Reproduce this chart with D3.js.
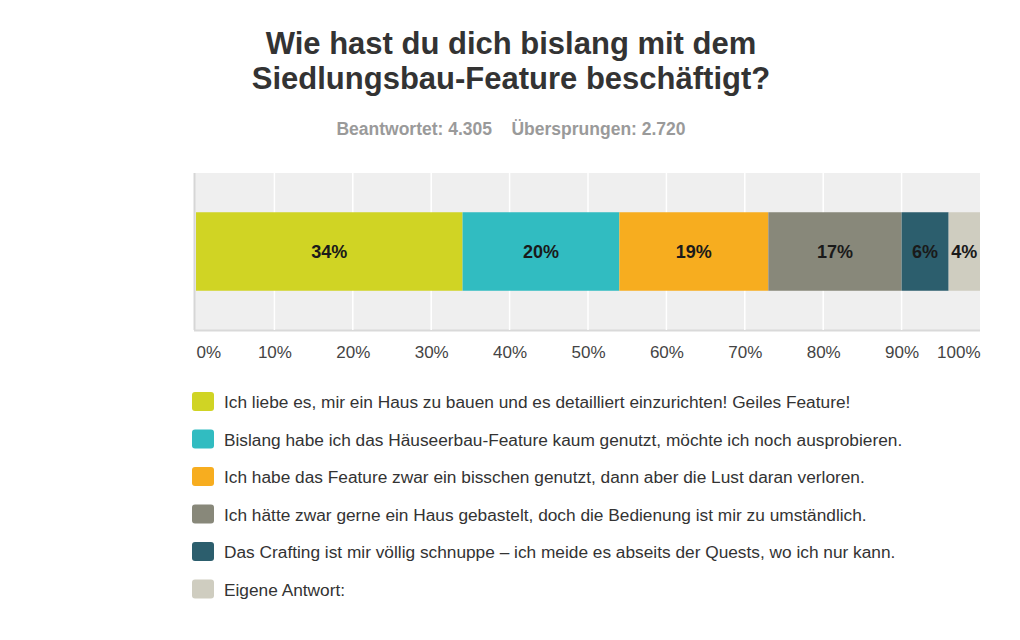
<!DOCTYPE html>
<html>
<head>
<meta charset="utf-8">
<script src="https://cdn.jsdelivr.net/npm/d3@7"></script>
<style>
  body { margin: 0; background: #fff; }
  svg text { font-family: "Liberation Sans", Arial, sans-serif; }
</style>
</head>
<body>
<div id="chart"></div>
<script>
// Data
var answers = [
  "Ich liebe es, mir ein Haus zu bauen und es detailliert einzurichten! Geiles Feature!",
  "Bislang habe ich das Häuseerbau-Feature kaum genutzt, möchte ich noch ausprobieren.",
  "Ich habe das Feature zwar ein bisschen genutzt, dann aber die Lust daran verloren.",
  "Ich hätte zwar gerne ein Haus gebastelt, doch die Bedienung ist mir zu umständlich.",
  "Das Crafting ist mir völlig schnuppe – ich meide es abseits der Quests, wo ich nur kann.",
  "Eigene Antwort:"
];
var shares = [34, 20, 19, 17, 6, 4];
var colors = ["#d0d424", "#31bcc1", "#f7ad1f", "#88887a", "#2c5e6d", "#cfcdc0"];
var tickValues = [0, 10, 20, 30, 40, 50, 60, 70, 80, 90, 100];
var titleLines = ["Wie hast du dich bislang mit dem", "Siedlungsbau-Feature beschäftigt?"];
var subtitle = "Beantwortet: 4.305\u00a0\u00a0\u00a0\u00a0Übersprungen: 2.720";

var svgWidth = 1020;
var svgHeight = 640;

var svg = d3.select("#chart")
  .append("svg")
  .attr("width", svgWidth)
  .attr("height", svgHeight);

// Title
svg.append("g").selectAll("text")
  .data(titleLines)
  .enter()
  .append("text")
  .attr("x", 511)
  .attr("y", (d, i) => 54 + i * 35)
  .attr("text-anchor", "middle")
  .attr("font-size", "31px")
  .attr("font-weight", "bold")
  .attr("fill", "#333")
  .text(d => d);

svg.append("text")
  .attr("x", 511)
  .attr("y", 135)
  .attr("text-anchor", "middle")
  .attr("font-size", "17.5px")
  .attr("font-weight", "bold")
  .attr("fill", "#9a9a9a")
  .text(subtitle);

// Scales
var plotTop = 173, plotBottom = 330;
var x = d3.scaleLinear().domain([0, 100]).range([196, 980]);
var y = d3.scaleBand().domain(["q"]).range([plotTop, plotBottom]).paddingInner(0).paddingOuter(0.5);

// Plot background
svg.append("rect")
  .attr("x", 194)
  .attr("y", plotTop)
  .attr("width", x(100) - 194)
  .attr("height", plotBottom - plotTop)
  .attr("fill", "#efefef");

svg.append("line")
  .attr("x1", 194.5).attr("x2", 194.5)
  .attr("y1", plotTop).attr("y2", plotBottom)
  .attr("stroke", "#d6d6d6")
  .attr("stroke-width", 2);

svg.append("line")
  .attr("x1", 194).attr("x2", x(100))
  .attr("y1", plotBottom + 0.5).attr("y2", plotBottom + 0.5)
  .attr("stroke", "#d9d9d9")
  .attr("stroke-width", 2);

// Gridlines
svg.append("g").selectAll("line")
  .data(tickValues.slice(1, -1))
  .enter()
  .append("line")
  .attr("x1", d => x(d)).attr("x2", d => x(d))
  .attr("y1", plotTop).attr("y2", plotBottom)
  .attr("stroke", "#fff")
  .attr("stroke-width", 1.5);

// Stacked bar
var stackData = [];
var acc = 0;
shares.forEach(function(v, i) {
  stackData.push({ start: acc, end: acc + v, value: v, color: colors[i] });
  acc += v;
});

svg.append("g").selectAll("rect")
  .data(stackData)
  .enter()
  .append("rect")
  .attr("x", d => x(d.start))
  .attr("y", y("q"))
  .attr("width", d => x(d.end) - x(d.start))
  .attr("height", y.bandwidth())
  .attr("fill", d => d.color);

svg.append("g").selectAll("text")
  .data(stackData)
  .enter()
  .append("text")
  .attr("x", d => (x(d.start) + x(d.end)) / 2)
  .attr("y", y("q") + y.bandwidth() / 2)
  .attr("dy", "0.35em")
  .attr("text-anchor", "middle")
  .attr("font-size", "18px")
  .attr("font-weight", "bold")
  .attr("fill", "#1a1a1a")
  .text(d => d.value + "%");

// X axis labels
var bottomAxis = d3.axisBottom(x)
  .tickValues(tickValues)
  .tickFormat(d => d + "%")
  .tickSize(0)
  .tickPadding(0);

var axisG = svg.append("g")
  .attr("transform", "translate(0, 346)")
  .call(bottomAxis);

axisG.select(".domain").remove();
axisG.selectAll("text")
  .attr("font-family", "Liberation Sans, Arial, sans-serif")
  .attr("font-size", "17px")
  .attr("fill", "#444")
  .attr("text-anchor", (d, i) => i === 0 ? "start" : (i === tickValues.length - 1 ? "end" : "middle"));

// Legend
var legend = svg.append("g").selectAll("g")
  .data(answers)
  .enter()
  .append("g")
  .attr("transform", (d, i) => `translate(192, ${392 + i * 37.5})`);

legend.append("rect")
  .attr("width", 22)
  .attr("height", 19)
  .attr("rx", 3)
  .attr("fill", (d, i) => colors[i]);

legend.append("text")
  .attr("x", 32)
  .attr("y", 10)
  .attr("dy", "0.35em")
  .attr("font-size", "17.3px")
  .attr("fill", "#333")
  .text(d => d);
</script>
</body>
</html>
